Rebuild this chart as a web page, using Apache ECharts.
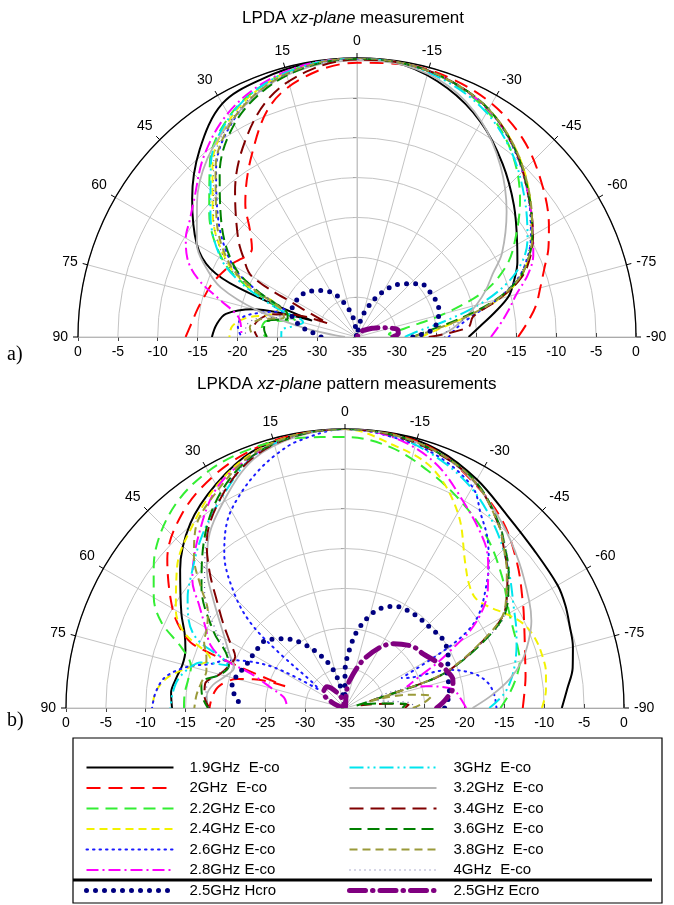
<!DOCTYPE html>
<html><head><meta charset="utf-8">
<script src="https://cdn.jsdelivr.net/npm/echarts@6/dist/echarts.min.js"></script>
<style>html,body{margin:0;padding:0;background:#fff}#c{width:674px;height:905px}</style>
</head><body><div id="c"></div>
<script>
// ---- axis ticks ----
const ANGLE_MIN = -90, ANGLE_MAX = 90, ANGLE_STEP = 15;
const DB_MIN = -35, DB_MAX = 0, DB_STEP = 5;

// ---- series names (legend order) ----
const NAMES = ['1.9GHz  E-co','2GHz  E-co','2.2GHz E-co','2.4GHz E-co','2.6GHz E-co','2.8GHz E-co',
  '3GHz  E-co','3.2GHz  E-co','3.4GHz  E-co','3.6GHz  E-co','3.8GHz  E-co','4GHz  E-co','2.5GHz Hcro','2.5GHz Ecro'];

// ---- (a) LPDA : [angle(deg), level(dB)] ----
const a_19 = [[-90,-21],[-85,-19.5],[-80,-17.5],[-75,-15.3],[-70,-14],[-65,-12.8],[-60,-11.8],[-50,-9.3],[-40,-6.6],[-30,-3.9],[-20,-1.8],[-10,-0.4],[0,0],[10,-0.1],[20,-0.5],[30,-1.2],[40,-4.3],[50,-8],[60,-11.8],[65,-14.7],[67.5,-19],[70,-29],[72.5,-25],[75,-21.5],[80,-18.3],[85,-17.3],[90,-16.8]];
const a_20 = [[-90,-14.8],[-85,-13.5],[-80,-12.2],[-75,-11.2],[-70,-10],[-65,-8.5],[-60,-7.2],[-50,-4.8],[-40,-2.6],[-30,-1.2],[-20,-0.5],[-10,-0.3],[0,-0.6],[10,-1.5],[20,-3.8],[30,-8.6],[40,-13.2],[45,-16],[50,-17.8],[60,-16.8],[65,-16.2],[70,-15.6],[75,-15.2],[80,-14.7],[85,-14.2],[90,-13.5]];
const a_22 = [[-90,-30],[-85,-31],[-80,-29],[-75,-23.5],[-70,-17.8],[-65,-14.5],[-60,-12.3],[-50,-8.3],[-40,-4.8],[-30,-2.3],[-20,-0.9],[-10,-0.2],[0,-0.1],[10,-0.3],[20,-1.2],[30,-3],[40,-6.3],[50,-10.8],[60,-15.5],[65,-19.5],[70,-25],[75,-27],[80,-23.5],[85,-23],[90,-23.5]];
const a_24 = [[-90,-27],[-85,-25],[-80,-21.5],[-75,-16.5],[-70,-13.2],[-65,-11.2],[-60,-9.7],[-50,-6.8],[-40,-4.1],[-30,-2],[-20,-0.8],[-10,-0.2],[0,0],[10,-0.3],[20,-1.3],[30,-3.3],[40,-6.8],[50,-11.4],[60,-16.2],[65,-20],[70,-24.5],[75,-24],[80,-21],[85,-19.3],[90,-19]];
const a_26 = [[-90,-23.5],[-85,-22.5],[-80,-20.5],[-75,-16.8],[-70,-13.5],[-65,-11.4],[-60,-9.8],[-50,-7],[-40,-4.3],[-30,-2],[-20,-0.8],[-10,-0.2],[0,-0.1],[10,-0.4],[20,-1.6],[30,-3.8],[40,-7.5],[50,-12.3],[60,-17],[65,-21],[70,-25.5],[75,-23],[80,-20.5],[85,-20],[90,-20.5]];
const a_28 = [[-90,-18.2],[-85,-17],[-80,-15.7],[-75,-14.3],[-70,-12.2],[-65,-10.6],[-60,-9.5],[-50,-7],[-40,-4.2],[-30,-2.1],[-20,-0.8],[-10,-0.2],[0,0],[10,-0.2],[20,-1],[30,-2.6],[40,-5.2],[50,-8.3],[55,-9.4],[60,-10.2],[65,-11.5],[70,-13.8],[75,-17.3],[80,-19.8],[85,-20.4],[90,-20.5]];
const a_30 = [[-90,-29],[-85,-27.5],[-80,-24],[-75,-19],[-70,-14.8],[-65,-12],[-60,-10.3],[-50,-7.6],[-40,-4.8],[-30,-2.5],[-20,-1.1],[-10,-0.3],[0,0],[10,-0.3],[20,-1.2],[30,-3.1],[40,-6.5],[50,-11],[60,-15.3],[65,-19],[70,-24],[75,-28],[80,-27],[85,-25.5],[90,-25.5]];
const a_32 = [[-90,-25],[-85,-23],[-80,-21.3],[-75,-19.5],[-70,-17.8],[-65,-16.2],[-60,-14],[-50,-10.5],[-40,-7],[-30,-3.8],[-20,-1.5],[-10,-0.4],[0,-0.3],[10,-0.6],[20,-1.6],[30,-3.6],[40,-5.8],[50,-8.8],[60,-11.8],[65,-14],[70,-16.8],[75,-22],[80,-28],[85,-32],[90,-33.5]];
const a_34 = [[-90,-26],[-85,-21],[-80,-20.2],[-75,-16.5],[-70,-13],[-65,-11],[-60,-9.5],[-50,-7],[-40,-4.2],[-30,-2],[-20,-0.8],[-10,-0.2],[0,-0.2],[10,-1],[20,-3],[30,-6.8],[40,-11.2],[50,-15.5],[55,-17.6],[60,-19.8],[62.5,-27],[65,-31],[70,-27],[75,-24],[80,-22.5],[85,-22],[90,-22.5]];
const a_36 = [[-90,-28],[-85,-26],[-80,-22],[-75,-17],[-70,-13.3],[-65,-11.2],[-60,-9.6],[-50,-6.9],[-40,-4.2],[-30,-2],[-20,-0.8],[-10,-0.2],[0,-0.1],[10,-0.5],[20,-1.8],[30,-4.2],[40,-8.2],[50,-12.8],[60,-17.2],[65,-21],[70,-25.5],[75,-26],[80,-23.5],[85,-23.3],[90,-23.7]];
const a_38 = [[-90,-28],[-85,-25.5],[-80,-21.5],[-75,-16.8],[-70,-13.3],[-65,-11.2],[-60,-9.6],[-50,-6.8],[-40,-4.1],[-30,-2],[-20,-0.8],[-10,-0.2],[0,0],[10,-0.4],[20,-1.5],[30,-3.7],[40,-7.4],[50,-12],[60,-16.5],[65,-20.5],[70,-25],[75,-25.5],[80,-22.5],[85,-21.5],[90,-22]];
const a_40 = [[-90,-24],[-85,-23.5],[-80,-21],[-75,-17],[-70,-13.6],[-65,-11.5],[-60,-9.9],[-50,-7.1],[-40,-4.4],[-30,-2.1],[-20,-0.9],[-10,-0.2],[0,-0.1],[10,-0.5],[20,-1.5],[30,-3.5],[40,-7],[50,-11.5],[60,-16],[65,-20],[70,-24],[75,-25],[80,-22],[85,-21],[90,-21]];
const a_hcro = [[-90,-28],[-85,-25.6],[-80,-24.8],[-75,-24.4],[-70,-24.1],[-65,-24.1],[-60,-24.2],[-50,-24.6],[-40,-26.3],[-30,-28.4],[-20,-31],[-10,-33.3],[0,-35],[10,-32.8],[20,-30.6],[30,-28.5],[40,-27.4],[50,-26.4],[60,-26.1],[70,-26.2],[75,-26.9],[80,-28],[85,-29.6],[90,-30.5]];
const a_ecro = [[-90,-30.5],[-85,-29.8],[-80,-29.8],[-75,-30.7],[-70,-31.6],[-65,-32.3],[-60,-32.8],[-50,-33.6],[-40,-34],[-30,-34.6],[-20,-35],[0,-35],[20,-35],[40,-34.8],[60,-34.6],[80,-34.5],[90,-34.6]];

// ---- (b) LPKDA : [angle(deg), level(dB)] ----
const b_19 = [[-90,-7.8],[-85,-7],[-80,-6],[-75,-5.4],[-70,-5],[-65,-4.5],[-60,-4.2],[-50,-4.1],[-40,-3.4],[-30,-1.9],[-20,-0.6],[-10,0],[0,0],[10,-0.2],[20,-0.8],[30,-2.6],[40,-4.8],[50,-8],[60,-11.3],[65,-12.8],[70,-13.7],[75,-13.9],[80,-13.5],[85,-13.1],[90,-13.3]];
const b_20 = [[-90,-12.7],[-85,-12.4],[-80,-12],[-75,-11.6],[-70,-11],[-65,-10.2],[-60,-9.2],[-50,-6.8],[-40,-4.3],[-30,-2.5],[-20,-0.8],[-10,-0.1],[0,0],[10,-0.1],[20,-0.6],[30,-1.6],[40,-3.2],[50,-5.9],[60,-10],[65,-12.5],[67.5,-14.8],[70,-27],[72.5,-23],[75,-21],[80,-19],[85,-18.3],[90,-18]];
const b_22 = [[-90,-15.5],[-85,-14.3],[-80,-13.2],[-75,-12.3],[-70,-12],[-65,-11.7],[-60,-11.2],[-50,-9.3],[-40,-7.2],[-30,-5.4],[-20,-3.6],[-10,-1.8],[0,-1],[10,-0.6],[20,-0.4],[30,-0.7],[40,-1.8],[50,-4],[55,-5.7],[60,-7.3],[65,-9.6],[70,-13.3],[75,-15],[80,-15],[85,-14.8],[90,-14.8]];
const b_24 = [[-90,-10.3],[-85,-9.7],[-80,-9.4],[-75,-9.4],[-70,-9.6],[-65,-10.2],[-60,-11.5],[-55,-12.9],[-50,-13.6],[-45,-13],[-40,-11.5],[-30,-6.7],[-20,-3],[-10,-1.4],[0,0],[10,-0.2],[20,-1],[30,-2.8],[40,-5.2],[50,-7.5],[60,-10.5],[65,-12.8],[70,-17],[75,-15],[80,-12.5],[85,-11.2],[90,-10.8]];
const b_26 = [[-90,-16],[-85,-16.2],[-80,-16.8],[-75,-18.3],[-70,-21],[-65,-26],[-62,-27],[-60,-21],[-58,-17],[-55,-14.5],[-50,-12],[-45,-9.5],[-40,-7.2],[-35,-5.3],[-30,-3],[-20,-1.3],[-10,-0.5],[0,0],[10,-1],[15,-2],[20,-3.3],[26,-5.1],[32,-7.2],[38,-10.4],[44,-15],[48,-19.1],[50,-24],[52,-30],[55,-31],[60,-25],[65,-21],[68,-19],[72,-17.2],[75,-14.8],[80,-12.2],[85,-11.2],[90,-10.8]];
const b_28 = [[-90,-19.8],[-85,-20.5],[-80,-21.3],[-75,-24.5],[-71,-26.8],[-67,-24.8],[-64,-22.2],[-61,-19.5],[-58,-16.3],[-54,-13.5],[-50,-11.6],[-45,-9.6],[-40,-7.8],[-30,-5.2],[-20,-2.2],[-10,-0.5],[0,0],[10,-0.3],[20,-1.3],[30,-3],[40,-6.5],[50,-10],[55,-12.7],[60,-14.8],[65,-16.4],[68,-18.5],[70,-22.5],[75,-25.5],[80,-27.2],[85,-27.6],[90,-27.7]];
const b_30 = [[-90,-16.9],[-85,-15],[-80,-13.8],[-75,-12.9],[-70,-12.1],[-65,-11.3],[-60,-10.5],[-50,-8.2],[-40,-5.6],[-30,-3.2],[-20,-1.5],[-10,-0.3],[0,0],[10,-0.3],[20,-1.4],[30,-4.3],[40,-7],[50,-9.7],[55,-10.9],[60,-12.3],[65,-14.5],[68,-18.5],[70,-19.5],[72.5,-16],[75,-15],[80,-13.8],[85,-13.3],[90,-13.1]];
const b_32 = [[-90,-19],[-85,-16.5],[-80,-14],[-75,-12],[-70,-10.5],[-65,-9.2],[-60,-8.3],[-50,-6.5],[-40,-4.5],[-30,-2.4],[-20,-0.9],[-10,-0.2],[0,0],[10,-0.4],[20,-1.7],[30,-4.8],[40,-8.2],[45,-10.5],[50,-13.3],[60,-17.6],[65,-19],[70,-20.2],[75,-19.5],[80,-18.2],[85,-17.6],[90,-17.8]];
const b_34 = [[-90,-27.5],[-87,-27],[-84,-30],[-80,-33],[-75,-32],[-72,-24],[-70,-21],[-65,-16.6],[-60,-12.2],[-55,-10.2],[-50,-8.4],[-45,-6.8],[-40,-5],[-30,-2.3],[-20,-1],[-10,-0.3],[0,0],[10,-0.3],[20,-1.5],[30,-4.2],[40,-8],[45,-11],[50,-14],[55,-16.3],[60,-18.3],[65,-19.8],[70,-19.5],[75,-18.7],[80,-17.2],[85,-17.3],[90,-18]];
const b_36 = [[-90,-27.8],[-86,-27.3],[-82,-31],[-78,-33.5],[-74,-31],[-72,-24],[-70,-21],[-65,-16.3],[-60,-12],[-55,-10],[-50,-8.2],[-45,-6.6],[-40,-4.9],[-30,-2.2],[-20,-0.9],[-10,-0.2],[0,0],[10,-0.3],[20,-1.3],[30,-3.8],[40,-7.5],[50,-11.5],[60,-16],[65,-18.5],[70,-19.5],[75,-18.8],[80,-16.7],[85,-17],[90,-17.8]];
const b_38 = [[-90,-26.5],[-86,-25],[-82,-24],[-78,-27],[-75,-32],[-72,-24.5],[-70,-21.2],[-65,-16.8],[-60,-12.3],[-55,-10.3],[-50,-8.5],[-45,-6.8],[-40,-5],[-30,-2.3],[-20,-0.9],[-10,-0.2],[0,0],[10,-0.2],[20,-1.1],[30,-3.3],[40,-5.8],[45,-8.2],[50,-11.4],[55,-14],[60,-15],[65,-15.5],[70,-16.5],[75,-17],[80,-16.7],[85,-16.3],[90,-16.1]];
const b_40 = [[-90,-26],[-85,-27],[-80,-30],[-75,-31],[-72,-24],[-70,-21],[-65,-16.5],[-60,-12],[-50,-8.3],[-40,-4.9],[-30,-2.3],[-20,-1],[-10,-0.3],[0,0],[10,-0.3],[20,-1.4],[30,-4],[40,-7.8],[50,-12],[60,-16.5],[65,-18.8],[70,-19.5],[75,-18.5],[80,-17.5],[85,-17.5],[90,-18]];
const b_hcro = [[-90,-22.5],[-85,-22],[-80,-21.7],[-70,-21.4],[-65,-20.7],[-60,-20.2],[-55,-20],[-47,-20.3],[-36,-20.4],[-26,-20.8],[-18,-22.1],[-10,-24.8],[-5,-27.3],[0,-30.5],[4,-35],[10,-33],[17,-30],[25,-27.7],[33,-25.4],[41,-23.5],[49,-22],[59,-21.7],[66,-21.5],[76,-20.6],[80,-20.6],[84,-21.2],[90,-22.1]];
const b_ecro = [[-90,-23.5],[-85,-22.3],[-79,-21.2],[-75,-21],[-70,-21.4],[-65,-21.9],[-55,-23.1],[-48,-23.5],[-37,-24.9],[-23,-28],[-10,-31.4],[-5,-33],[0,-35],[20,-33.5],[40,-31.5],[55,-31.7],[65,-33],[80,-34.5],[90,-35]];

const DATA_A = [a_19,a_20,a_22,a_24,a_26,a_28,a_30,a_32,a_34,a_36,a_38,a_40,a_hcro,a_ecro];
const DATA_B = [b_19,b_20,b_22,b_24,b_26,b_28,b_30,b_32,b_34,b_36,b_38,b_40,b_hcro,b_ecro];

// ---- styles ----
const STYLES = [
  {color:'#000000', width:2, type:'solid'},
  {color:'#ff0000', width:2, type:[14,8]},
  {color:'#33ee33', width:2, type:[12,7]},
  {color:'#f2f200', width:2, type:[8,5]},
  {color:'#1a1aff', width:2, type:[1.5,5], cap:'round'},
  {color:'#ff00ff', width:2, type:[12,4,2,4]},
  {color:'#00e5ee', width:2, type:[14,4,2,4,2,4]},
  {color:'#b4b4b4', width:1.8, type:'solid'},
  {color:'#800000', width:2, type:[14,7]},
  {color:'#008000', width:2, type:[12,6]},
  {color:'#9a9a3a', width:2, type:[8,5]},
  {color:'#6060a0', width:1.2, type:[1,4]},
  {color:'#000080', width:5, type:[0,9], cap:'round'},
  {color:'#800080', width:5, type:[16,7,0.5,7], cap:'round'}
];

const FONT = 'Liberation Sans, Arial, sans-serif';
const GRID = '#c4c4c4';

function polarSet(center, R, base) {
  const polar = [{center, radius:R},{center, radius:R},{center, radius:R}];
  const angleAxis = [
    {polarIndex:base, type:'value', min:ANGLE_MIN, max:ANGLE_MAX, interval:ANGLE_STEP, startAngle:0, endAngle:180, clockwise:false,
     axisLine:{lineStyle:{color:'#000', width:1.3}}, axisTick:{show:true, length:5, lineStyle:{color:'#000', width:1}},
     axisLabel:{color:'#000', fontSize:14, fontFamily:FONT, margin:10},
     splitLine:{show:true, lineStyle:{color:GRID, width:1}}, z:1},
    {polarIndex:base+1, type:'value', min:ANGLE_MIN, max:ANGLE_MAX, startAngle:180, endAngle:0, clockwise:true, show:false,
     axisLine:{show:false}, axisTick:{show:false}, axisLabel:{show:false}, splitLine:{show:false}},
    {polarIndex:base+2, type:'value', min:ANGLE_MIN, max:ANGLE_MAX, startAngle:90, endAngle:-90, clockwise:true, show:false,
     axisLine:{show:false}, axisTick:{show:false}, axisLabel:{show:false}, splitLine:{show:false}}
  ];
  const radiusAxis = [
    {polarIndex:base, type:'value', min:DB_MIN, max:DB_MAX, interval:DB_STEP,
     axisLine:{lineStyle:{color:'#aaa'}}, axisTick:{show:true, inside:true, length:4, lineStyle:{color:'#444'}},
     axisLabel:{color:'#000', fontSize:14, fontFamily:FONT, margin:-8, verticalAlign:'top'},
     splitLine:{show:true, lineStyle:{color:GRID, width:1}}, z:1},
    {polarIndex:base+1, type:'value', min:DB_MIN, max:DB_MAX, interval:DB_STEP,
     axisLine:{lineStyle:{color:'#aaa'}}, axisTick:{show:true, length:4, lineStyle:{color:'#444'}},
     axisLabel:{color:'#000', fontSize:14, fontFamily:FONT, margin:8, verticalAlign:'top', showMinLabel:false},
     splitLine:{show:false}},
    {polarIndex:base+2, type:'value', min:DB_MIN, max:DB_MAX, interval:DB_STEP,
     axisLine:{lineStyle:{color:GRID}}, axisTick:{show:true, length:4, lineStyle:{color:'#444'}},
     axisLabel:{show:false}, splitLine:{show:false}}
  ];
  return {polar, angleAxis, radiusAxis};
}

const PA = polarSet([357,337], 279, 0);
const PB = polarSet([345,708], 279, 3);

function makeSeries(dataSet, polarIndex) {
  return dataSet.map((d, i) => ({
    type:'line', name:NAMES[i], coordinateSystem:'polar', polarIndex,
    data: d.map(p => [p[1], p[0]]), smooth:0.35, symbol:'none', silent:true,
    lineStyle:{color:STYLES[i].color, width:STYLES[i].width, type:STYLES[i].type, cap:STYLES[i].cap||'butt'},
    itemStyle:{color:STYLES[i].color}, z: 3 + (i>=12 ? 2 : 0)
  }));
}

const legendCommon = {orient:'vertical', itemWidth:87, itemHeight:14, itemGap:5.5, padding:0, selectedMode:false,
  itemStyle:{opacity:0}, lineStyle:{width:'inherit'},
  textStyle:{fontSize:15, fontFamily:FONT, color:'#000', padding:[0,0,0,11]}};

const RICH = {n:{fontSize:17, fontFamily:FONT, fontWeight:'normal', color:'#000'},
              i:{fontSize:17, fontFamily:FONT, fontStyle:'italic', fontWeight:'normal', color:'#000'}};

const option = {
  animation:false,
  backgroundColor:'#fff',
  title:[
    {text:'{n|LPDA }{i|xz-plane}{n| measurement}', left:237, top:5, textStyle:{fontWeight:'normal', rich:RICH}},
    {text:'{n|LPKDA }{i|xz-plane}{n| pattern measurements}', left:192, top:371, textStyle:{fontWeight:'normal', rich:RICH}},
    {text:'a)', left:2, top:340, textStyle:{fontSize:20, fontWeight:'normal', fontFamily:'Liberation Serif, serif', color:'#000'}},
    {text:'b)', left:2, top:706, textStyle:{fontSize:20, fontWeight:'normal', fontFamily:'Liberation Serif, serif', color:'#000'}}
  ],
  polar:[...PA.polar, ...PB.polar],
  angleAxis:[...PA.angleAxis, ...PB.angleAxis],
  radiusAxis:[...PA.radiusAxis, ...PB.radiusAxis],
  legend:[
    Object.assign({}, legendCommon, {data:NAMES.slice(0,6).concat([NAMES[12]]), left:84, top:760, textStyle:Object.assign({}, legendCommon.textStyle, {padding:[0,0,0,11]})}),
    Object.assign({}, legendCommon, {data:NAMES.slice(6,12).concat([NAMES[13]]), left:347, top:760, textStyle:Object.assign({}, legendCommon.textStyle, {padding:[0,0,0,12]})})
  ],
  graphic:[
    {type:'rect', shape:{x:73, y:738, width:589, height:165}, style:{fill:'none', stroke:'#000', lineWidth:1.2}, z:-1},
    {type:'line', shape:{x1:73, y1:880, x2:652, y2:880}, style:{stroke:'#000', lineWidth:3}}
  ],
  series:[...makeSeries(DATA_A, 0), ...makeSeries(DATA_B, 3)]
};

const chart = echarts.init(document.getElementById('c'), null, {renderer:'canvas'});
chart.setOption(option);
</script>
</body></html>
